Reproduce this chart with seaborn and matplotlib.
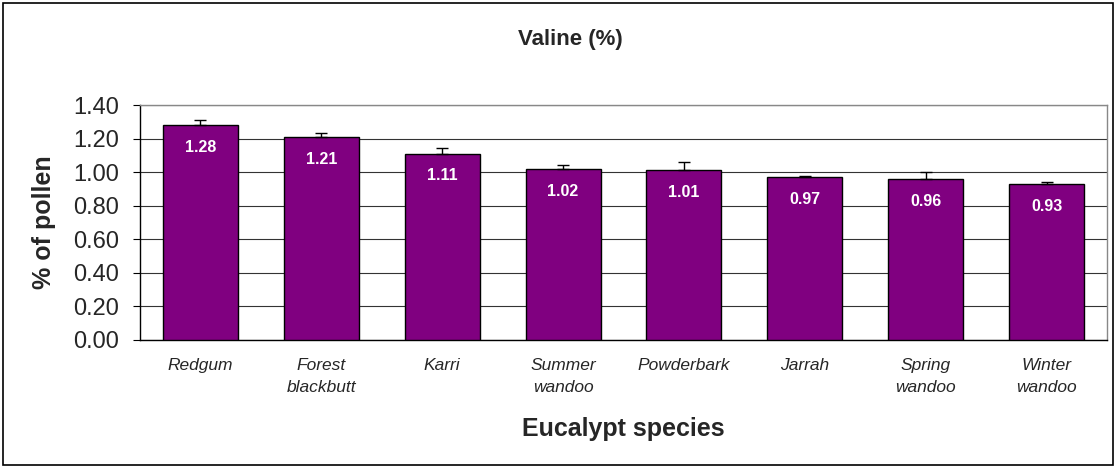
import matplotlib
matplotlib.use("Agg")
import matplotlib.pyplot as plt
import seaborn as sns
import pandas as pd
import numpy as np

species = ["Redgum", "Forest\nblackbutt", "Karri", "Summer\nwandoo",
           "Powderbark", "Jarrah", "Spring\nwandoo", "Winter\nwandoo"]
valine = [1.28, 1.21, 1.11, 1.02, 1.01, 0.97, 0.96, 0.93]
std_err = [0.03, 0.025, 0.035, 0.025, 0.05, 0.01, 0.04, 0.01]
y_ticks = [0.0, 0.2, 0.4, 0.6, 0.8, 1.0, 1.2, 1.4]

sns.set_style("white")
plt.rcParams["font.family"] = ["Liberation Sans", "DejaVu Sans"]

df = pd.DataFrame({"species": species, "valine": valine})

fig = plt.figure(figsize=(11.16, 4.68), dpi=100)
ax = fig.add_axes([140 / 1116, 1 - 340 / 468, (1107 - 140) / 1116, (340 - 105) / 468])

sns.barplot(data=df, x="species", y="valine", color="#800080", saturation=1,
            width=0.62, edgecolor="black", linewidth=1.0, ax=ax, zorder=3)

# upward-only error bars
xs = np.arange(len(species))
ax.errorbar(xs, valine, yerr=[np.zeros(len(std_err)), std_err], fmt="none",
            ecolor="black", elinewidth=1.0, capsize=4, capthick=1.0, zorder=4)

# value labels inside bars
for x, v in zip(xs, valine):
    ax.annotate(f"{v:.2f}", (x, v), xytext=(0, -16), textcoords="offset points",
                ha="center", va="center", color="white", fontsize=11.5,
                fontweight="bold", zorder=5)

ax.set_ylim(0, 1.4)
ax.set_xlim(-0.5, len(species) - 0.5)
ax.set_yticks(y_ticks)
ax.set_yticklabels([f"{t:.2f}" for t in y_ticks], fontsize=17)
ax.yaxis.grid(True, color="#333333", linewidth=0.8, zorder=0)
ax.set_axisbelow(True)

# category labels centred, tick marks on the category boundaries
ax.set_xticks(xs)
ax.set_xticklabels(species, fontsize=12.5, style="italic", linespacing=1.6)
ax.tick_params(axis="x", length=0, pad=13)
ax.set_xticks(np.arange(-0.5, len(species), 1.0), minor=True)
ax.tick_params(axis="x", which="minor", length=5, direction="out", color="black")
ax.tick_params(axis="y", length=5, direction="out", color="black", left=True, pad=10)

for side in ["left", "bottom"]:
    ax.spines[side].set_color("black")
    ax.spines[side].set_linewidth(1.0)
for side in ["top", "right"]:
    ax.spines[side].set_color("#888888")
    ax.spines[side].set_linewidth(1.0)

ax.set_xlabel("Eucalypt species", fontsize=18, fontweight="bold", labelpad=16)
ax.set_ylabel("% of pollen", fontsize=18, fontweight="bold", labelpad=12)
fig.text(570 / 1116, 1 - 40 / 468, "Valine (%)", ha="center", va="center",
         fontsize=16, fontweight="bold")

# outer chart border
fig.patches.append(plt.Rectangle((3 / 1116, 3 / 468), 1 - 6 / 1116, 1 - 6 / 468,
                                 transform=fig.transFigure, fill=False,
                                 edgecolor="black", linewidth=1.2))

fig.savefig("out.png", dpi=100)
